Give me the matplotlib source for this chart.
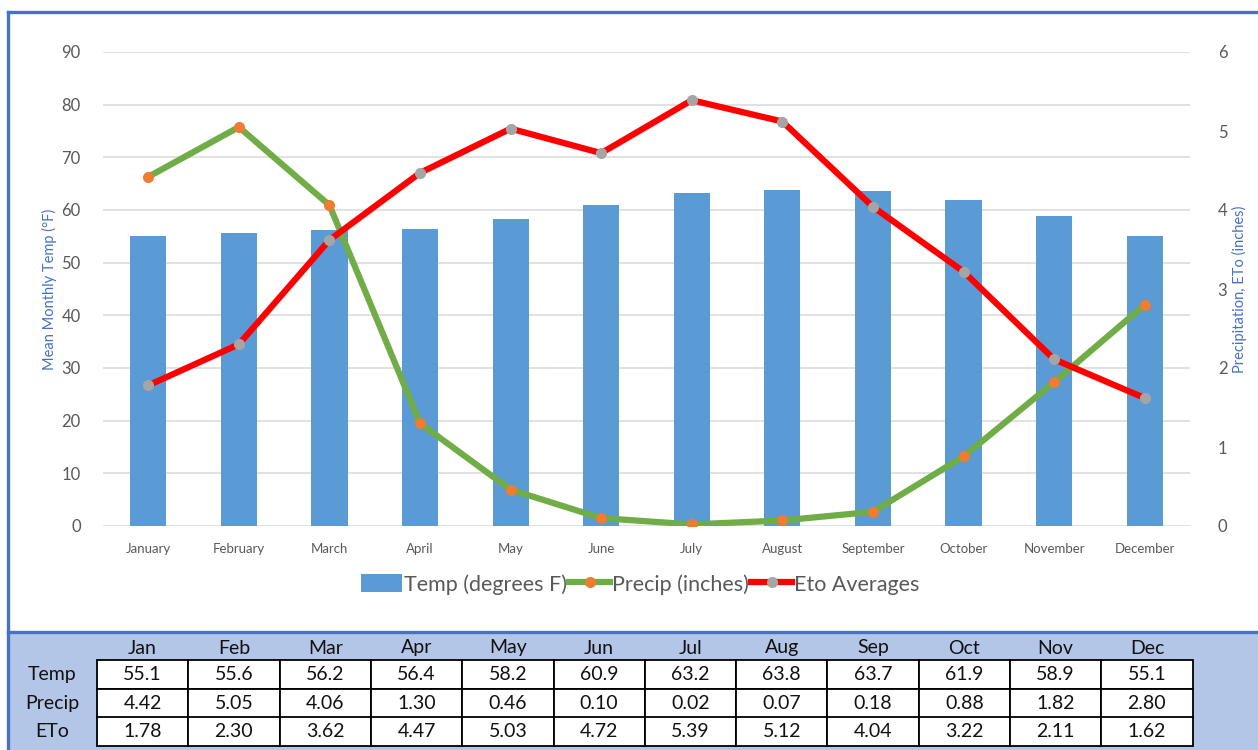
import matplotlib.pyplot as plt
from matplotlib.lines import Line2D
from matplotlib.patches import Patch, Rectangle

plt.rcParams["font.family"] = ["Lato", "DejaVu Sans"]

months = ["January", "February", "March", "April", "May", "June",
          "July", "August", "September", "October", "November", "December"]
months_short = ["Jan", "Feb", "Mar", "Apr", "May", "Jun",
                "Jul", "Aug", "Sep", "Oct", "Nov", "Dec"]
temp = [55.1, 55.6, 56.2, 56.4, 58.2, 60.9, 63.2, 63.8, 63.7, 61.9, 58.9, 55.1]
precip = [4.42, 5.05, 4.06, 1.30, 0.46, 0.10, 0.02, 0.07, 0.18, 0.88, 1.82, 2.80]
eto = [1.78, 2.30, 3.62, 4.47, 5.03, 4.72, 5.39, 5.12, 4.04, 3.22, 2.11, 1.62]
row_names = ["Temp", "Precip", "ETo"]
row_fmt = ["{:.1f}", "{:.2f}", "{:.2f}"]

W, H = 1258, 750
fig = plt.figure(figsize=(W / 100, H / 100), dpi=100)

# background: chart frame + table area, in pixel coords
bg = fig.add_axes([0, 0, 1, 1], zorder=0)
bg.set_xlim(0, W)
bg.set_ylim(H, 0)
bg.axis("off")
border = "#4472c4"
bg.add_patch(Rectangle((8, 632), W, H - 632, facecolor="#b4c6e7", edgecolor="none"))
bg.plot([8, 8], [12, H], color=border, lw=2.4)
bg.plot([8, W], [12, 12], color=border, lw=2.4)
bg.plot([8, W], [632, 632], color=border, lw=2.4)

# table
x0, cw = 97, 91.3
row_top = [660, 689, 717]
rh = 28.5
for j, m in enumerate(months_short):
    bg.text(x0 + cw * (j + 0.5), 648, m, ha="center", va="center", fontsize=14, color="#111111")
for i, (name, vals, fmt) in enumerate(zip(row_names, [temp, precip, eto], row_fmt)):
    yc = row_top[i] + rh / 2
    bg.text(52, yc, name, ha="center", va="center", fontsize=14, color="#111111")
    for j, v in enumerate(vals):
        bg.add_patch(Rectangle((x0 + cw * j, row_top[i]), cw, rh,
                               facecolor="white", edgecolor="black", lw=1.3))
        bg.text(x0 + cw * (j + 0.5), yc, fmt.format(v), ha="center", va="center",
                fontsize=14, color="#111111")

# chart
ax = fig.add_axes([103 / W, 1 - 526 / H, (1190 - 103) / W, (526 - 52) / H], zorder=1)
ax.patch.set_visible(False)
x = list(range(len(months)))
ax.bar(x, temp, width=0.4, color="#5b9bd5", zorder=2)
ax.set_xlim(-0.5, 11.5)
ax.set_ylim(0, 90)
ax.set_yticks(range(0, 91, 10))
ax.set_xticks(x)
ax.set_xticklabels(months, fontsize=9.5, color="#595959")
ax.tick_params(axis="y", labelsize=12, labelcolor="#595959", length=0, pad=16)
ax.tick_params(axis="x", length=0, pad=12)
ax.grid(axis="y", color="#d9d9d9", lw=1.1, zorder=0)
ax.set_axisbelow(True)
for s in ax.spines.values():
    s.set_visible(False)
ax.set_ylabel("Mean Monthly Temp (°F)", color="#4472c4", fontsize=10.5, labelpad=3)

ax2 = ax.twinx()
ax2.set_ylim(0, 6)
ax2.set_yticks(range(0, 7))
ax2.tick_params(axis="y", labelsize=12, labelcolor="#595959", length=0, pad=20)
for s in ax2.spines.values():
    s.set_visible(False)
ax2.plot(x, precip, color="#70ad47", lw=4.5, marker="o", ms=7,
         mfc="#ed7d31", mec="#ed7d31", solid_joinstyle="round", solid_capstyle="round")
ax2.plot(x, eto, color="#ff0000", lw=4.5, marker="o", ms=7,
         mfc="#a5a5a5", mec="#a5a5a5", solid_joinstyle="round", solid_capstyle="round")
ax2.set_ylabel("Precipitation, ETo (inches)", color="#4472c4", fontsize=10.5, labelpad=3)

handles = [
    Patch(facecolor="#5b9bd5"),
    Line2D([], [], color="#70ad47", lw=4.5, marker="o", ms=7, mfc="#ed7d31", mec="#ed7d31"),
    Line2D([], [], color="#ff0000", lw=4.5, marker="o", ms=7, mfc="#a5a5a5", mec="#a5a5a5"),
]
fig.legend(handles, ["Temp (degrees F)", "Precip (inches)", "Eto Averages"],
           loc="center", bbox_to_anchor=(0.509, 0.221), ncol=3, frameon=False,
           fontsize=15.5, labelcolor="#595959", handlelength=1.9, handleheight=0.9,
           columnspacing=0.1, handletextpad=0.1)

fig.savefig("out.png", dpi=100)
